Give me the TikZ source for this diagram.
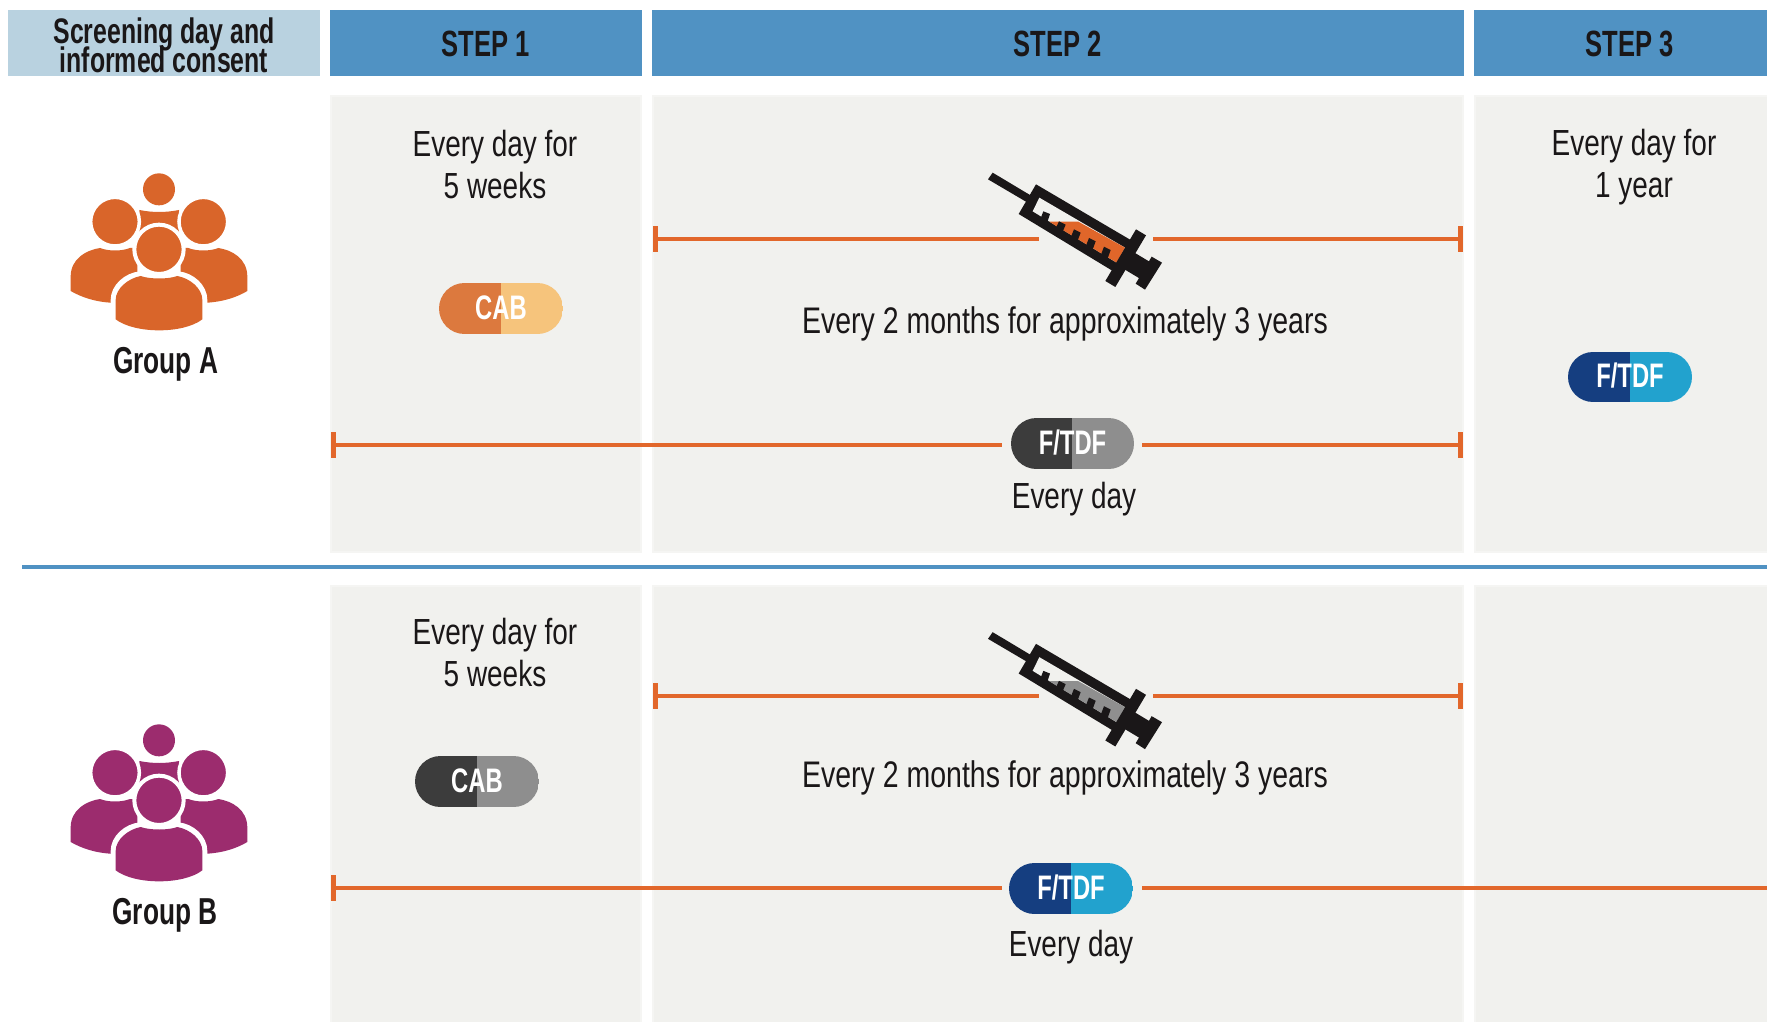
\documentclass[tikz,border=0pt]{standalone}
\usepackage{fontspec}
\setmainfont[FakeStretch=0.77]{Liberation Sans}
\newfontfamily\condbold[FakeStretch=0.70]{Liberation Sans Bold}
\usetikzlibrary{arrows.meta}
\definecolor{headblue}{HTML}{5092C3}
\definecolor{headlight}{HTML}{B9D2E0}
\definecolor{panelc}{HTML}{F1F1EE}
\definecolor{panelb}{HTML}{F5F5F3}
\definecolor{ink}{HTML}{1A1718}
\definecolor{linec}{HTML}{E2672B}
\definecolor{groupa}{HTML}{D9652A}
\definecolor{groupb}{HTML}{9C2C6E}
\definecolor{cabl}{HTML}{DC793E}
\definecolor{cabr}{HTML}{F6C47C}
\definecolor{grayl}{HTML}{3C3C3C}
\definecolor{grayr}{HTML}{8E8E8E}
\definecolor{bluel}{HTML}{153E80}
\definecolor{bluer}{HTML}{22A2CE}
\definecolor{liquid}{HTML}{E0662A}
\definecolor{liquidg}{HTML}{8F8F8F}
\definecolor{rulec}{HTML}{5092C3}
\tikzset{
  x=1pt,y=1pt,
  panelbox/.style={fill=panelc,draw=panelb,line width=2pt},
  headtext/.style={font=\fontsize{36.5}{36.5}\selectfont\condbold,text=ink,inner sep=0pt},
  grouptext/.style={font=\fontsize{37.5}{37.5}\selectfont\condbold,text=ink,inner sep=0pt},
  bodytext/.style={font=\fontsize{37}{42}\selectfont,text=ink,align=center,inner sep=0pt},
  shorttext/.style={font=\fontsize{36.3}{41.5}\selectfont,text=ink,align=center,inner sep=0pt},
  pilltext/.style={font=\fontsize{34}{34}\selectfont\condbold,text=white,inner sep=0pt},
  span/.style={draw=linec,line width=4pt},
  barstart/.style={{Rectangle[width=26pt,length=5.5pt]}-},
  barend/.style={-{Rectangle[width=26pt,length=5.5pt]}},
}
% name, left, right, split, top, bottom, left colour, right colour, text
\newcommand{\pillshape}[9]{%
  \pgfmathsetmacro{\pillr}{(#6-#5)/2}%
  \begin{scope}
    \clip[rounded corners=\pillr pt] (#2,-#5) rectangle (#3,-#6);
    \fill[#7] (#2,-#5) rectangle (#4,-#6);
    \fill[#8] (#4,-#5) rectangle (#3,-#6);
  \end{scope}
  \node[pilltext] (#1) at ({(#2+#3)/2},{-(#5+#6)/2+1}) {#9};
}
% x offset, y offset, liquid colour
\newcommand{\syringe}[3]{%
  \begin{scope}[x=0.33333pt,y=-0.33333pt,shift={(#1pt,-#2pt)}]
    \fill[ink] (84,88) -- (98,68) -- (215,138) -- (203,158) -- cycle;
    \fill[ink] (228,103) -- (512,270) -- (465,367) -- (176,192) -- cycle;
    \fill[panelc] (238,143) -- (495,293) -- (470,338) -- (218,184) -- cycle;
    \fill[#3] (268,215) -- (355,215) -- (495,293) -- (470,338) -- (300,235) -- cycle;
    \fill[ink] (250,184) -- (270,192) -- (260,222) -- (240,210) -- cycle;
    \fill[ink] (297,214) -- (317,224) -- (306,250) -- (286,238) -- cycle;
    \fill[ink] (342,238) -- (362,248) -- (351,277) -- (331,265) -- cycle;
    \fill[ink] (387,264) -- (407,274) -- (396,304) -- (376,292) -- cycle;
    \fill[ink] (432,290) -- (452,300) -- (441,331) -- (421,319) -- cycle;
    \fill[ink] (528,238) -- (558,256) -- (466,411) -- (436,393) -- cycle;
    \fill[ink] (510,300) -- (585,345) -- (555,395) -- (480,350) -- cycle;
    \fill[ink] (575,320) -- (606,338) -- (555,419) -- (527,401) -- cycle;
  \end{scope}
}
% y offset, colour
\newcommand{\people}[2]{%
  \begin{scope}[x=0.33333pt,y=-0.33333pt,shift={(50pt,-#1pt)}]
    \fill[#2] (327,88) circle[radius=48];
    \fill[#2] (268,150) .. controls (310,158) and (345,158) .. (387,150) -- (387,240) -- (268,240) -- cycle;
    \fill[#2,draw=white,line width=3.5pt] (195,185) circle[radius=73];
    \fill[#2,draw=white,line width=3.5pt] (460,185) circle[radius=73];
    \fill[#2] (62,393) -- (62,350) .. controls (62,295) and (110,270) .. (150,264) .. controls (175,274) and (215,274) .. (240,264) -- (262,264) -- (262,440) -- (180,428) .. controls (135,425) and (95,412) .. (62,393) -- cycle;
    \fill[#2] (592,393) -- (592,350) .. controls (592,295) and (545,270) .. (505,264) .. controls (480,274) and (440,274) .. (415,264) -- (392,264) -- (392,440) -- (472,428) .. controls (520,425) and (560,412) .. (592,393) -- cycle;
    \fill[white] (182,530) -- (182,420) .. controls (182,375) and (225,338) .. (270,334) -- (385,334) .. controls (430,338) and (472,375) .. (472,420) -- (472,530) -- cycle;
    \fill[#2] (197,478) -- (197,420) .. controls (197,385) and (235,355) .. (272,348) .. controls (300,358) and (355,358) .. (382,348) .. controls (420,355) and (457,385) .. (457,420) -- (457,478) .. controls (400,522) and (255,522) .. (197,478) -- cycle;
    \fill[#2,draw=white,line width=4pt] (327,268) circle[radius=74];
  \end{scope}
}
\begin{document}
\begin{tikzpicture}
\useasboundingbox (0,0) rectangle (1767,-1022);
\fill[white] (0,0) rectangle (1767,-1022);
% headers
\fill[headlight] (8,-10) rectangle (320,-76);
\fill[headblue] (330,-10) rectangle (642,-76);
\fill[headblue] (652,-10) rectangle (1464,-76);
\fill[headblue] (1474,-10) rectangle (1767,-76);
\node[font=\fontsize{35.5}{29}\selectfont\condbold,text=ink,align=center,inner sep=0pt] (hscreen) at (164,-45) {Screening day and\\[-5pt]informed consent};
\node[headtext] (hone) at (485.5,-44) {STEP 1};
\node[headtext] (htwo) at (1057.5,-44) {STEP 2};
\node[headtext] (hthree) at (1629.5,-44) {STEP 3};
% panels
\draw[panelbox] (331,-96) rectangle (641,-552);
\draw[panelbox] (653,-96) rectangle (1463,-552);
\draw[panelbox] (1475,-96) rectangle (1770,-552);
\draw[panelbox] (331,-586) rectangle (641,-1025);
\draw[panelbox] (653,-586) rectangle (1463,-1025);
\draw[panelbox] (1475,-586) rectangle (1770,-1025);
% divider
\coordinate (ruleL) at (22,-567);
\coordinate (ruleR) at (1767,-567);
\draw[rulec,line width=4pt] (ruleL) -- (ruleR);
% groups
\people{160}{groupa}
\people{711}{groupb}
\node[grouptext] (ga) at (165.5,-364) {Group A};
\node[grouptext] (gb) at (165,-915) {Group B};
% texts
\node[shorttext] (a1) at (495,-164.5) {Every day for\\5 weeks};
\node[bodytext] (a2) at (1065,-323.5) {Every 2 months for approximately 3 years};
\node[shorttext] (a3) at (1634,-167) {Every day for\\1 year};
\node[shorttext] (a4) at (1074,-499) {Every day};
\node[shorttext] (b1) at (495,-652.5) {Every day for\\5 weeks};
\node[bodytext] (b2) at (1065,-777.5) {Every 2 months for approximately 3 years};
\node[shorttext] (b4) at (1071,-947) {Every day};
% pills
\pillshape{pa}{439}{563}{501}{283}{334}{cabl}{cabr}{CAB}
\pillshape{pc}{1568}{1692}{1630}{352}{402}{bluel}{bluer}{F/TDF}
\pillshape{pb}{1011}{1134}{1072}{418}{469}{grayl}{grayr}{F/TDF}
\pillshape{pd}{415}{539}{477}{756}{807}{grayl}{grayr}{CAB}
\pillshape{pe}{1009}{1133}{1071}{863}{914}{bluel}{bluer}{F/TDF}
% syringes
\syringe{960}{150}{liquid}
\syringe{960}{609.5}{liquidg}
% connectors
\coordinate (a2l) at (652.7,-239.3);
\coordinate (a2m1) at (1039,-239.3);
\coordinate (a2m2) at (1153,-239.3);
\coordinate (a2r) at (1463,-239.3);
\draw[span,barstart] (a2l) -- (a2m1);
\draw[span,barend] (a2m2) -- (a2r);
\coordinate (afl) at (330.7,-444.5);
\coordinate (afm1) at (1002,-444.5);
\coordinate (afm2) at (1142,-444.5);
\coordinate (afr) at (1463,-444.5);
\draw[span,barstart] (afl) -- (afm1);
\draw[span,barend] (afm2) -- (afr);
\coordinate (b2l) at (652.7,-696);
\coordinate (b2m1) at (1039,-696);
\coordinate (b2m2) at (1153,-696);
\coordinate (b2r) at (1463,-696);
\draw[span,barstart] (b2l) -- (b2m1);
\draw[span,barend] (b2m2) -- (b2r);
\coordinate (bfl) at (330.7,-888);
\coordinate (bfm1) at (1002,-888);
\coordinate (bfm2) at (1142,-888);
\coordinate (bfr) at (1767,-888);
\draw[span,barstart] (bfl) -- (bfm1);
\draw[span] (bfm2) -- (bfr);
\end{tikzpicture}
\end{document}
